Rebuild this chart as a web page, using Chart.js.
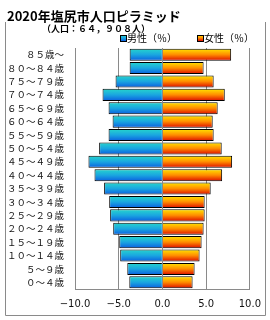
<!DOCTYPE html>
<html>
<head>
<meta charset="utf-8">
<script src="https://cdn.jsdelivr.net/npm/chart.js@4"></script>
<style>
  html, body { margin: 0; padding: 0; background: #fff; }
  #wrap { width: 270px; height: 320px; position: relative; }
</style>
</head>
<body>
<div id="wrap"><canvas id="pyramid" width="270" height="320"></canvas></div>
<script>
const ageLabels = ["８５歳～", "８０～８４歳", "７５～７９歳", "７０～７４歳", "６５～６９歳", "６０～６４歳",
    "５５～５９歳", "５０～５４歳", "４５～４９歳", "４０～４４歳", "３５～３９歳", "３０～３４歳",
    "２５～２９歳", "２０～２４歳", "１５～１９歳", "１０～１４歳", "５～９歳", "０～４歳"];
const malePct = [3.75, 3.75, 5.36, 6.85, 6.16, 5.70, 6.16, 7.24, 8.46, 7.77, 6.67, 6.09, 5.98, 5.63, 4.94, 4.83, 4.02, 3.79];
const femalePct = [7.86, 4.71, 5.86, 7.13, 6.32, 5.75, 5.86, 6.78, 7.97, 6.83, 5.52, 4.83, 4.83, 4.71, 4.48, 4.25, 3.68, 3.45];
const xTicks = [-10, -5, 0, 5, 10];

const titleText = "2020年塩尻市人口ピラミッド";
const subText = "（人口：６４，９０８人）";
const maleName = "男性（％）";
const femaleName = "女性（％）";

const maleStops = ["#26d6cc", "#1aa6e0", "#0a5ee0"];
const femaleStops = ["#ffe600", "#ff8c00", "#dc0a00"];
const BAR_PCT = 0.9;

function barFill(stops) {
    return function (c) {
        const yScale = c.chart.scales.y;
        if (!yScale || c.dataIndex === undefined) return stops[1];
        const cy = yScale.getPixelForValue(c.dataIndex);
        const h = (yScale.height / ageLabels.length) * BAR_PCT;
        if (!isFinite(cy) || !isFinite(h) || h <= 0) return stops[1];
        const g = c.chart.ctx.createLinearGradient(0, cy - h / 2, 0, cy + h / 2);
        g.addColorStop(0, stops[0]);
        g.addColorStop(0.5, stops[1]);
        g.addColorStop(1, stops[2]);
        return g;
    };
}

function legendBox(ctx, x, y, stops) {
    const g = ctx.createLinearGradient(0, y, 0, y + 6);
    g.addColorStop(0, stops[0]);
    g.addColorStop(0.5, stops[1]);
    g.addColorStop(1, stops[2]);
    ctx.fillStyle = g;
    ctx.fillRect(x, y, 6, 6);
    ctx.strokeStyle = "#000";
    ctx.lineWidth = 1;
    ctx.strokeRect(x + 0.5, y + 0.5, 6, 6);
}

const decorPlugin = {
    id: "decor",
    beforeDraw(chart) {
        const ctx = chart.ctx;
        ctx.save();
        ctx.fillStyle = "#fff";
        ctx.fillRect(0, 0, chart.width, chart.height);
        // outer frame (left, bottom, right)
        ctx.strokeStyle = "#8a8a8a";
        ctx.lineWidth = 1;
        ctx.beginPath();
        ctx.moveTo(5.5, 22);
        ctx.lineTo(5.5, 315.5);
        ctx.lineTo(265.5, 315.5);
        ctx.lineTo(265.5, 22);
        ctx.stroke();
        ctx.restore();
    },
    afterDatasetsDraw(chart) {
        const ctx = chart.ctx;
        const x0 = Math.round(chart.scales.x.getPixelForValue(0)) + 0.5;
        const area = chart.chartArea;
        ctx.save();
        ctx.strokeStyle = "#8a8a8a";
        ctx.lineWidth = 1;
        ctx.beginPath();
        ctx.moveTo(x0, area.top);
        ctx.lineTo(x0, area.bottom);
        ctx.stroke();
        ctx.restore();
    },
    afterDraw(chart) {
        const ctx = chart.ctx;
        ctx.save();
        ctx.fillStyle = "#000";
        ctx.textBaseline = "middle";
        ctx.textAlign = "left";
        ctx.font = "bold 13px 'Noto Sans CJK JP'";
        ctx.fillText(titleText, 7, 16);
        ctx.font = "bold 9px 'Noto Sans CJK JP'";
        ctx.fillText(subText, 42, 29);
        ctx.font = "10px 'Noto Sans CJK JP'";
        legendBox(ctx, 120, 35, maleStops);
        ctx.fillStyle = "#000";
        ctx.fillText(maleName, 127, 38);
        legendBox(ctx, 197, 35, femaleStops);
        ctx.fillStyle = "#000";
        ctx.fillText(femaleName, 204, 38);
        ctx.restore();
    }
};

new Chart(document.getElementById("pyramid"), {
    type: "bar",
    data: {
        labels: ageLabels,
        datasets: [
            {
                label: maleName,
                data: malePct.map(v => -v),
                backgroundColor: barFill(maleStops),
                borderColor: "#000",
                borderWidth: 1,
                barPercentage: BAR_PCT,
                categoryPercentage: 1
            },
            {
                label: femaleName,
                data: femalePct,
                backgroundColor: barFill(femaleStops),
                borderColor: "#000",
                borderWidth: 1,
                barPercentage: BAR_PCT,
                categoryPercentage: 1
            }
        ]
    },
    options: {
        indexAxis: "y",
        responsive: false,
        animation: false,
        events: [],
        layout: { padding: { top: 48, right: 20, bottom: 0, left: 0 } },
        plugins: { legend: { display: false }, title: { display: false }, tooltip: { enabled: false } },
        scales: {
            x: {
                stacked: true,
                min: -10,
                max: 10,
                afterBuildTicks(axis) { axis.ticks = xTicks.map(v => ({ value: v })); },
                afterFit(axis) { axis.height = 31; },
                grid: { color: "#8a8a8a", drawTicks: false },
                border: { display: true, color: "#8a8a8a" },
                ticks: {
                    padding: 9,
                    color: "#111",
                    font: { family: "'DejaVu Sans'", size: 10 },
                    callback: v => (v < 0 ? "−" + Math.abs(v).toFixed(1) : v.toFixed(1))
                }
            },
            y: {
                stacked: true,
                afterFit(axis) { axis.width = 75; },
                grid: { display: false, drawTicks: false },
                border: { display: true, color: "#8a8a8a" },
                ticks: {
                    padding: 11,
                    color: "#111",
                    autoSkip: false,
                    font: { family: "'Noto Sans CJK JP'", size: 9.5 }
                }
            }
        }
    },
    plugins: [decorPlugin]
});
</script>
</body>
</html>
